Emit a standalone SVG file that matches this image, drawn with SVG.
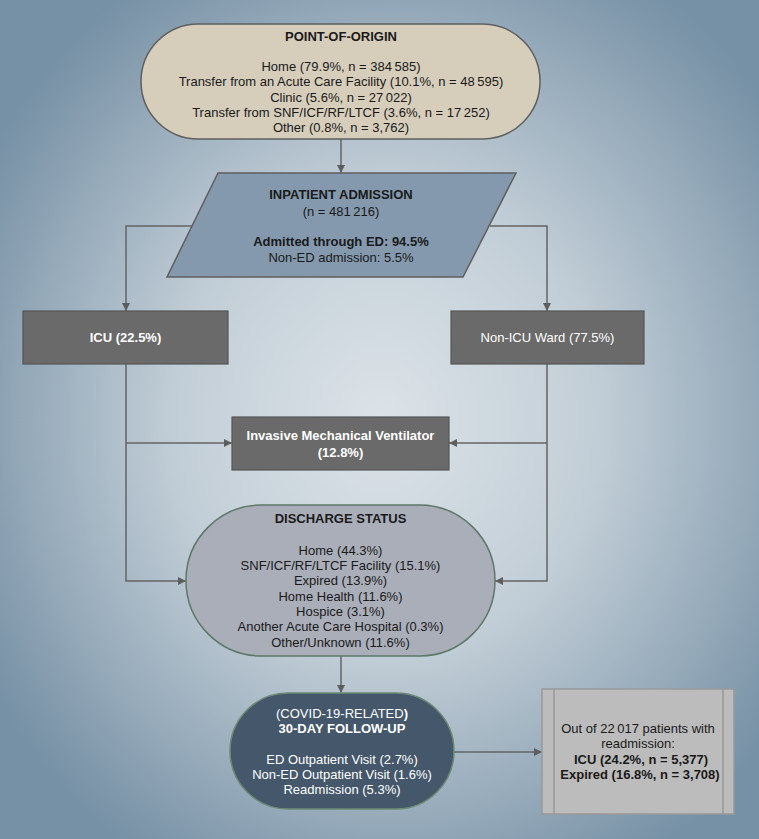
<svg xmlns="http://www.w3.org/2000/svg" width="759" height="839" viewBox="0 0 759 839">
<defs>
<radialGradient id="bg" cx="52%" cy="50%" r="62%" fx="50%" fy="50%">
<stop offset="0" stop-color="#dce3e8"/>
<stop offset="0.45" stop-color="#c2ced7"/>
<stop offset="1" stop-color="#7690a5"/>
</radialGradient>
<marker id="ah" viewBox="0 0 10 10" refX="10" refY="5" markerWidth="8" markerHeight="8" markerUnits="userSpaceOnUse" orient="auto">
<path d="M0,0 L10,5 L0,10 z" fill="#5e5e5e"/>
</marker>
<style>
text{font-family:"Liberation Sans",Arial,sans-serif;font-size:13px;text-anchor:middle;fill:#1a1a1a}
.b{font-weight:bold}
.w{fill:#ffffff}
.conn{fill:none;stroke:#646464;stroke-width:1.5}
.arr{marker-end:url(#ah)}
.dark{fill:#6a6a6a;stroke:#555555;stroke-width:1.2}
</style>
</defs>
<rect x="0" y="0" width="759" height="839" fill="url(#bg)"/>

<g id="connectors">
<path class="conn arr" d="M341,139 L341,173"/>
<path class="conn arr" d="M192,226 L126,226 L126,311"/>
<path class="conn arr" d="M490,226 L547,226 L547,311"/>
<path class="conn arr" d="M126,364 L126,581 L186,581"/>
<path class="conn arr" d="M126,443 L232,443"/>
<path class="conn arr" d="M547,364 L547,581 L495,581"/>
<path class="conn arr" d="M547,443 L449,443"/>
<path class="conn arr" d="M341,656 L341,693"/>
<path class="conn arr" d="M454,752 L542,752"/>
</g>

<g id="point-of-origin">
<rect x="141" y="24" width="399" height="115" rx="57.5" ry="57.5" fill="#d6cdbb" stroke="#5f5f5f" stroke-width="1.5"/>
<text class="b" x="341" y="41">POINT-OF-ORIGIN</text>
<text x="341" y="71">Home (79.9%, n = 384&#8201;585)</text>
<text x="341" y="86">Transfer from an Acute Care Facility (10.1%, n = 48&#8201;595)</text>
<text x="341" y="101.5">Clinic (5.6%, n = 27&#8201;022)</text>
<text x="341" y="116.5">Transfer from SNF/ICF/RF/LTCF (3.6%, n = 17&#8201;252)</text>
<text x="341" y="132">Other (0.8%, n = 3,762)</text>
</g>

<g id="inpatient-admission">
<path d="M218,173 L516,173 L463,277 L167,277 Z" fill="#8499ad" stroke="#5f5f5f" stroke-width="1.5"/>
<text class="b" x="341" y="198.5">INPATIENT ADMISSION</text>
<text x="341" y="215.5">(n = 481&#8201;216)</text>
<text class="b" x="341" y="245.5">Admitted through ED: 94.5%</text>
<text x="341" y="261.5">Non-ED admission: 5.5%</text>
</g>

<g id="icu">
<rect class="dark" x="23" y="311" width="205" height="53"/>
<text class="b w" x="125.5" y="342">ICU (22.5%)</text>
</g>

<g id="non-icu">
<rect class="dark" x="451" y="311" width="193" height="53"/>
<text class="w" x="547.5" y="342">Non-ICU Ward (77.5%)</text>
</g>

<g id="ventilator">
<rect class="dark" x="232" y="417" width="217" height="53"/>
<text class="b w" x="340.5" y="439.5">Invasive Mechanical Ventilator</text>
<text class="b w" x="340.5" y="456.5">(12.8%)</text>
</g>

<g id="discharge-status">
<rect x="186" y="505" width="309" height="151" rx="75.5" ry="75.5" fill="#aaaeb9" stroke="#5c7868" stroke-width="1.5"/>
<text class="b" x="340.5" y="522.5">DISCHARGE STATUS</text>
<text x="340.5" y="554.5">Home (44.3%)</text>
<text x="340.5" y="569.5">SNF/ICF/RF/LTCF Facility (15.1%)</text>
<text x="340.5" y="584.5">Expired (13.9%)</text>
<text x="340.5" y="600.5">Home Health (11.6%)</text>
<text x="340.5" y="615.5">Hospice (3.1%)</text>
<text x="340.5" y="630.5">Another Acute Care Hospital (0.3%)</text>
<text x="340.5" y="646.5">Other/Unknown (11.6%)</text>
</g>

<g id="follow-up">
<rect x="230" y="693" width="224" height="116" rx="58" ry="58" fill="#45576a" stroke="#6c8a72" stroke-width="1.5"/>
<text class="w" x="342" y="717.5">(COVID-19-RELATED<tspan class="b">)</tspan></text>
<text class="b w" x="342" y="732.5">30-DAY FOLLOW-UP</text>
<text class="w" x="342" y="763.5">ED Outpatient Visit (2.7%)</text>
<text class="w" x="342" y="778.5">Non-ED Outpatient Visit (1.6%)</text>
<text class="w" x="342" y="793.5">Readmission (5.3%)</text>
</g>

<g id="readmission">
<rect x="542" y="689" width="192" height="125" fill="#bcbcbc" stroke="#999999" stroke-width="1.5"/>
<line x1="554" y1="689" x2="554" y2="814" stroke="#999999" stroke-width="1.5"/>
<line x1="723" y1="689" x2="723" y2="814" stroke="#999999" stroke-width="1.5"/>
<text x="638" y="733">Out of 22&#8201;017 patients with</text>
<text x="638" y="748">readmission:</text>
<text class="b" x="641" y="763.5">ICU (24.2%, n = 5,377)</text>
<text class="b" x="640" y="779">Expired (16.8%, n = 3,708)</text>
</g>
</svg>
